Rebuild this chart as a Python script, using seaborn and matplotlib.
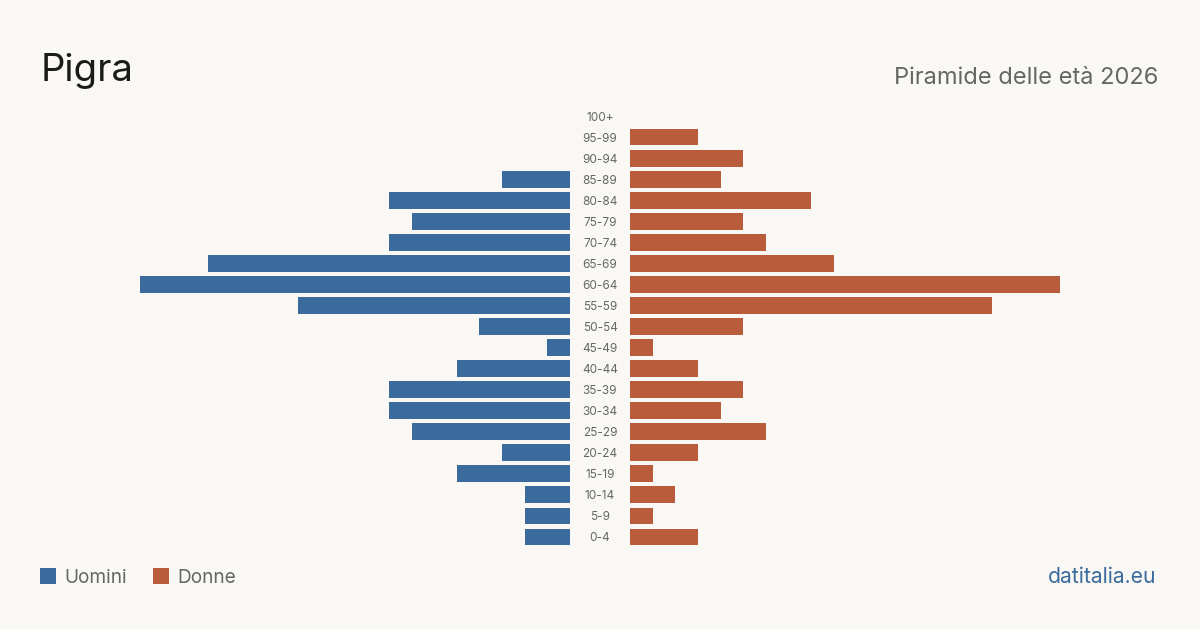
import matplotlib
matplotlib.use("Agg")
import matplotlib.pyplot as plt
import matplotlib.transforms as mtransforms
from matplotlib.patches import Rectangle
import seaborn as sns
import pandas as pd

age_groups = ["100+", "95-99", "90-94", "85-89", "80-84", "75-79", "70-74", "65-69",
              "60-64", "55-59", "50-54", "45-49", "40-44", "35-39", "30-34", "25-29",
              "20-24", "15-19", "10-14", "5-9", "0-4"]
men = [0, 0, 0, 3, 8, 7, 8, 16, 19, 12, 4, 1, 5, 8, 8, 7, 3, 5, 2, 2, 2]
women = [0, 3, 5, 4, 8, 5, 6, 9, 19, 16, 5, 1, 3, 5, 4, 6, 3, 1, 2, 1, 3]

title = "Pigra"
subtitle = "Piramide delle età 2026"
legend_labels = ["Uomini", "Donne"]
source = "datitalia.eu"

BG = "#f9f8f4"
BLUE = "#3b6b9c"
ORANGE = "#b85c3b"
GREY = "#666666"

sns.set_theme(style="white")
plt.rcParams["font.family"] = ["Inter", "DejaVu Sans"]

df = pd.DataFrame({"age": age_groups, "men": men, "women": women})

W, H = 1200, 630
fig = plt.figure(figsize=(12, 6.3), dpi=100, facecolor=BG)

top_px, bot_px = 105.5, 547.5
ax_b = 1 - bot_px / H
ax_h = (bot_px - top_px) / H
axL = fig.add_axes([140 / W, ax_b, 430 / W, ax_h])
axR = fig.add_axes([630 / W, ax_b, 430 / W, ax_h])

sns.barplot(data=df, y="age", x="men", order=age_groups, color=BLUE, orient="h",
            width=0.8, saturation=1, linewidth=0, ax=axL)
sns.barplot(data=df, y="age", x="women", order=age_groups, color=ORANGE, orient="h",
            width=0.8, saturation=1, linewidth=0, ax=axR)

for ax in (axL, axR):
    ax.set_facecolor("none")
    ax.set_xlim(0, 19)
    ax.set_ylim(len(age_groups) - 0.5, -0.5)
    ax.axis("off")
axL.invert_xaxis()

trans = mtransforms.blended_transform_factory(fig.transFigure, axR.transData)
offset = mtransforms.ScaledTranslation(0, -1.5 / 100, fig.dpi_scale_trans)
for i, lab in enumerate(age_groups):
    axR.text(600 / W, i, lab, transform=trans + offset, ha="center", va="center",
             fontsize=8.5, color=GREY)

fig.text(41 / W, 1 - 81 / H, title, fontsize=27.5, color="#1a1a1a", ha="left", va="baseline")
fig.text(1158 / W, 1 - 84 / H, subtitle, fontsize=17, color=GREY, ha="right", va="baseline")

# legend
for x0, col, lab in [(40, BLUE, legend_labels[0]), (153, ORANGE, legend_labels[1])]:
    fig.patches.append(Rectangle((x0 / W, 1 - 584 / H), 16 / W, 16 / H,
                                 transform=fig.transFigure, facecolor=col, edgecolor="none"))
    fig.text((x0 + 24) / W, 1 - 583 / H, lab, fontsize=13.7, color=GREY, ha="left", va="baseline")

fig.text(1156 / W, 1 - 583 / H, source, fontsize=15.2, color=BLUE, ha="right", va="baseline")

fig.savefig("out.png", dpi=100, facecolor=BG)
